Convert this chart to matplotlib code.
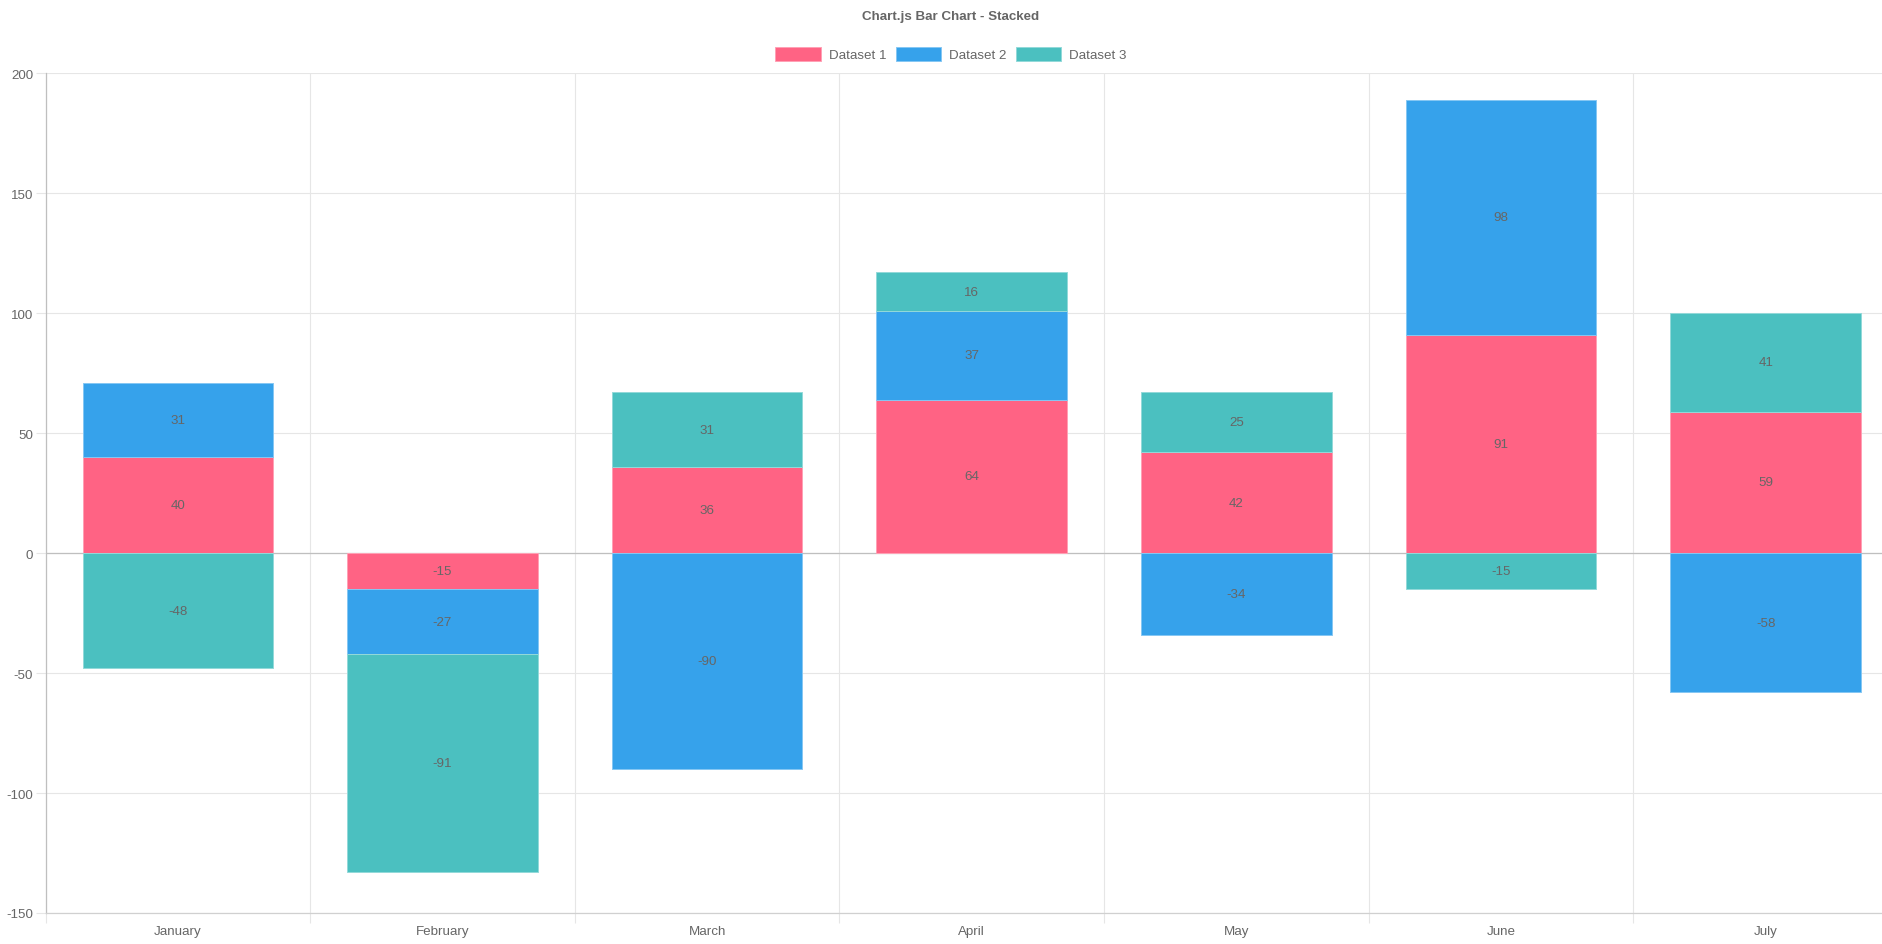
import matplotlib
matplotlib.use('Agg')
import matplotlib.pyplot as plt
import numpy as np

plt.rcParams['font.family'] = ['Liberation Sans', 'DejaVu Sans']

months = ['January', 'February', 'March', 'April', 'May', 'June', 'July']
dataset1 = [40, -15, 36, 64, 42, 91, 59]
dataset2 = [31, -27, -90, 37, -34, 98, -58]
dataset3 = [-48, -91, 31, 16, 25, -15, 41]
series = [('Dataset 1', dataset1, '#ff6384'),
          ('Dataset 2', dataset2, '#36a2eb'),
          ('Dataset 3', dataset3, '#4bc0c0')]
y_ticks = [-150, -100, -50, 0, 50, 100, 150, 200]

W, H = 1883, 945
fs = 9.6
fig = plt.figure(figsize=(W / 100, H / 100), dpi=100)
# the canvas is a bit wider than the screenshot, so the axes run off the right edge
left, right, top, bottom = 45.5, 1898, 74.3, 914
ax = fig.add_axes([left / W, 1 - bottom / H, (right - left) / W, (bottom - top) / H])

txt = '#666666'
grid = '#e6e6e6'
x = np.arange(len(months))
pos_base = np.zeros(len(months))
neg_base = np.zeros(len(months))
for name, vals, col in series:
    vals = np.array(vals, dtype=float)
    base = np.where(vals >= 0, pos_base, neg_base)
    edge = tuple(0.6 * np.array(matplotlib.colors.to_rgb(col)) + 0.4)
    ax.bar(x, vals, 0.72, bottom=base, color=col, edgecolor=edge, linewidth=0.7,
           label=name, zorder=3)
    for xi, b, v in zip(x, base, vals):
        ax.text(xi, b + v / 2, f'{int(v)}', ha='center', va='center',
                fontsize=fs, color=txt, zorder=4)
    pos_base = np.where(vals >= 0, pos_base + vals, pos_base)
    neg_base = np.where(vals < 0, neg_base + vals, neg_base)

ax.set_xlim(-0.5, len(months) - 0.5)
ax.set_ylim(-150, 200)
ax.set_yticks(y_ticks)
ax.set_yticklabels([str(t) for t in y_ticks])
ax.set_xticks(x)
ax.set_xticklabels(months)
ax.set_xticks(np.arange(len(months) + 1) - 0.5, minor=True)

ax.grid(True, which='major', axis='y', color=grid, lw=0.8, zorder=0)
ax.grid(True, which='minor', axis='x', color=grid, lw=0.8, zorder=0)
ax.axhline(0, color='#bfbfbf', lw=0.9, zorder=2)

ax.tick_params(axis='y', length=7, width=0.8, color=grid, pad=2, labelsize=fs, labelcolor=txt)
ax.tick_params(axis='x', which='major', length=0, pad=9, labelsize=fs, labelcolor=txt)
ax.tick_params(axis='x', which='minor', length=7, width=0.8, color=grid)

for s in ['top', 'right']:
    ax.spines[s].set_visible(False)
ax.spines['left'].set_color('#bfbfbf')
ax.spines['bottom'].set_color('#d0d0d0')
ax.spines['left'].set_linewidth(0.9)
ax.spines['bottom'].set_linewidth(0.9)

fig.text(951 / W, 1 - 17 / H, 'Chart.js Bar Chart - Stacked', ha='center', va='center',
         fontsize=fs, fontweight='bold', color=txt)
fig.legend(loc='center', bbox_to_anchor=(951 / W, 1 - 55 / H), ncol=3, frameon=False,
           fontsize=fs, handlelength=3.4, handleheight=1.35, handletextpad=0.6,
           columnspacing=0.7, labelcolor=txt)

fig.savefig('out.png', dpi=100)
